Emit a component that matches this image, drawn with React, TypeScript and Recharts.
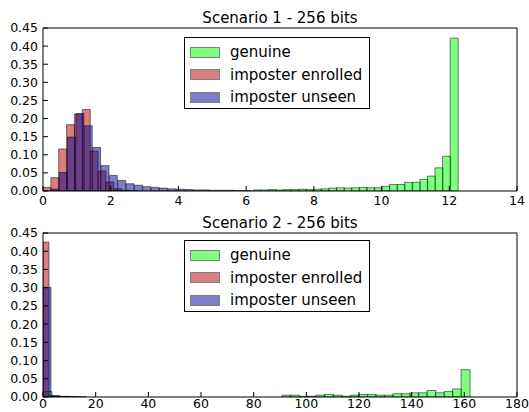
import React from "react";
import { BarChart, Bar, XAxis, YAxis, Legend } from "recharts";

// tick labels
const yTicks = [0, 0.05, 0.1, 0.15, 0.2, 0.25, 0.3, 0.35, 0.4, 0.45];
const xTicks1 = [0, 2, 4, 6, 8, 10, 12, 14];
const xTicks2 = [0, 20, 40, 60, 80, 100, 120, 140, 160, 180];

// Scenario 1 histograms (bin start, bin width, normalised heights)
const s1GenuineBins = { start: 1.05, width: 0.224 };
const s1Genuine = [
  0, 0, 0, 0, 0, 0, 0, 0, 0, 0,
  0, 0, 0, 0, 0, 0, 0, 0, 0, 0,
  0, 0, 0, 0.003, 0.003, 0.004, 0.003, 0.004, 0.004, 0.005,
  0.004, 0.005, 0.006, 0.008, 0.009, 0.008, 0.009, 0.01, 0.009, 0.009,
  0.013, 0.018, 0.018, 0.024, 0.024, 0.032, 0.041, 0.064, 0.096, 0.422,
];
const s1EnrolledBins = { start: 0, width: 0.232 };
const s1Enrolled = [0.01, 0.037, 0.116, 0.183, 0.212, 0.225, 0.11, 0.055, 0.025, 0.006, 0.002, 0.001];
const s1UnseenBins = { start: 0.23, width: 0.247 };
const s1Unseen = [
  0.005, 0.051, 0.149, 0.214, 0.18, 0.12, 0.07, 0.043, 0.029, 0.02, 0.016, 0.012,
  0.01, 0.008, 0.006, 0.005, 0.004, 0.003, 0.003, 0.002, 0.002, 0.002, 0.001, 0.001,
];

// Scenario 2 histograms
const s2GenuineBins = { start: 0, width: 3.24 };
const s2Genuine = [
  0.015, 0.002, 0.002, 0.001, 0.001, 0, 0, 0, 0, 0,
  0, 0, 0, 0, 0, 0, 0, 0, 0, 0,
  0, 0, 0, 0, 0, 0, 0, 0, 0.005, 0.005,
  0.002, 0.002, 0.005, 0.007, 0.005, 0.002, 0.005, 0.007, 0.007, 0.005,
  0.005, 0.009, 0.009, 0.0115, 0.0115, 0.018, 0.0115, 0.015, 0.022, 0.075,
];
const s2EnrolledBins = { start: 0, width: 2.3 };
const s2Enrolled = [0.425, 0.003, 0.001];
const s2UnseenBins = { start: 0, width: 3.2 };
const s2Unseen = [0.301, 0.004, 0.001, 0.001];

const names = ["genuine", "imposter enrolled", "imposter unseen"];
const colors = ["#00ff00", "#b40000", "#000090"];

const FONT = "DejaVu Sans";
const W = 529;
const PANEL = 206; // vertical spacing of the two subplots
const H = 218; // svg height, a bit taller so tick labels are not clipped
const M_LEFT = 43;
const M_RIGHT = 12;
const X_H = H - PANEL + 15;

type Bins = { start: number; width: number };

const toRows = (bins: Bins, values: number[]) =>
  values.map((v, i) => ({ x: bins.start + bins.width * (i + 0.5), v }));

function LegendBox() {
  return (
    <div
      style={{
        width: 186,
        height: 72,
        boxSizing: "border-box",
        border: "1px solid #000",
        background: "#fff",
        paddingTop: 3,
        fontFamily: FONT,
      }}
    >
      {names.map((n, i) => (
        <div key={n} style={{ display: "flex", alignItems: "center", height: 22.5 }}>
          <span
            style={{
              marginLeft: 5,
              width: 30,
              height: 11,
              boxSizing: "border-box",
              background: colors[i],
              opacity: 0.5,
              border: "1px solid #000",
            }}
          />
          <span style={{ marginLeft: 10, fontSize: 15, color: "#000" }}>{n}</span>
        </div>
      ))}
    </div>
  );
}

function Panel({
  top,
  title,
  xMax,
  xTicks,
  series,
  marginTop,
  legendTop,
  xTickMargin,
}: {
  top: number;
  title: string;
  xMax: number;
  xTicks: number[];
  series: { x: number; v: number }[][];
  marginTop: number;
  legendTop: number;
  xTickMargin: number;
}) {
  const layer = { position: "absolute" as const, left: 0, top: 0 };
  return (
    <div style={{ position: "absolute", left: 0, top, width: W, height: H }}>
      <div
        style={{
          position: "absolute",
          left: M_LEFT,
          width: W - M_LEFT - M_RIGHT,
          top: marginTop - 17.5,
          textAlign: "center",
          fontSize: 15,
          lineHeight: "15px",
          fontFamily: FONT,
        }}
      >
        {title}
      </div>
      {series.map((rows, i) => (
        <div key={i} style={layer}>
          <BarChart
            width={W}
            height={H}
            data={rows}
            margin={{ top: marginTop, right: M_RIGHT, bottom: X_H, left: M_LEFT }}
            barCategoryGap={0}
            barGap={0}
          >
            <XAxis hide type="number" dataKey="x" domain={[0, xMax]} allowDataOverflow />
            <YAxis hide type="number" domain={[0, 0.45]} allowDataOverflow />
            <Bar
              dataKey="v"
              fill={colors[i]}
              fillOpacity={0.5}
              stroke="#000"
              strokeOpacity={0.5}
              strokeWidth={1}
              isAnimationActive={false}
            />
          </BarChart>
        </div>
      ))}
      <div style={layer}>
        <BarChart
          width={W}
          height={H}
          data={series[0]}
          margin={{ top: marginTop - 1, right: M_RIGHT - 1, bottom: 0, left: 0 }}
        >
          <XAxis
            xAxisId="b"
            type="number"
            dataKey="x"
            domain={[0, xMax]}
            ticks={xTicks}
            interval={0}
            allowDataOverflow
            height={X_H}
            tickSize={-5}
            tickMargin={xTickMargin}
            stroke="#000"
            tick={{ fill: "#000", fontSize: 12.5, fontFamily: FONT }}
          />
          <XAxis
            xAxisId="t"
            orientation="top"
            type="number"
            dataKey="x"
            domain={[0, xMax]}
            ticks={xTicks}
            interval={0}
            allowDataOverflow
            height={1}
            tickSize={-5}
            tick={false}
            stroke="#000"
          />
          <YAxis
            yAxisId="l"
            type="number"
            domain={[0, 0.45]}
            ticks={yTicks}
            interval={0}
            allowDataOverflow
            width={M_LEFT}
            tickSize={-5}
            tickMargin={10}
            stroke="#000"
            tickFormatter={(v: number) => v.toFixed(2)}
            tick={{ fill: "#000", fontSize: 12.5, fontFamily: FONT }}
          />
          <YAxis
            yAxisId="r"
            orientation="right"
            type="number"
            domain={[0, 0.45]}
            ticks={yTicks}
            interval={0}
            allowDataOverflow
            width={1}
            tickSize={-5}
            tick={false}
            stroke="#000"
          />
          <Legend
            layout="vertical"
            align="center"
            verticalAlign="middle"
            content={() => <LegendBox />}
            wrapperStyle={{ left: 184, top: legendTop, width: 186, height: 72 }}
          />
        </BarChart>
      </div>
    </div>
  );
}

export default function App() {
  const top = [
    toRows(s1GenuineBins, s1Genuine),
    toRows(s1EnrolledBins, s1Enrolled),
    toRows(s1UnseenBins, s1Unseen),
  ];
  const bottom = [
    toRows(s2GenuineBins, s2Genuine),
    toRows(s2EnrolledBins, s2Enrolled),
    toRows(s2UnseenBins, s2Unseen),
  ];
  return (
    <div
      style={{
        position: "absolute",
        left: 0,
        top: 0,
        width: W,
        height: 412,
        overflow: "hidden",
        background: "#fff",
        fontFamily: FONT,
      }}
    >
      <Panel top={0} title="Scenario 1 - 256 bits" xMax={14} xTicks={xTicks1} series={top} marginTop={28} legendTop={37} xTickMargin={10} />
      <Panel top={PANEL} title="Scenario 2 - 256 bits" xMax={180} xTicks={xTicks2} series={bottom} marginTop={27} legendTop={34} xTickMargin={7.5} />
    </div>
  );
}
